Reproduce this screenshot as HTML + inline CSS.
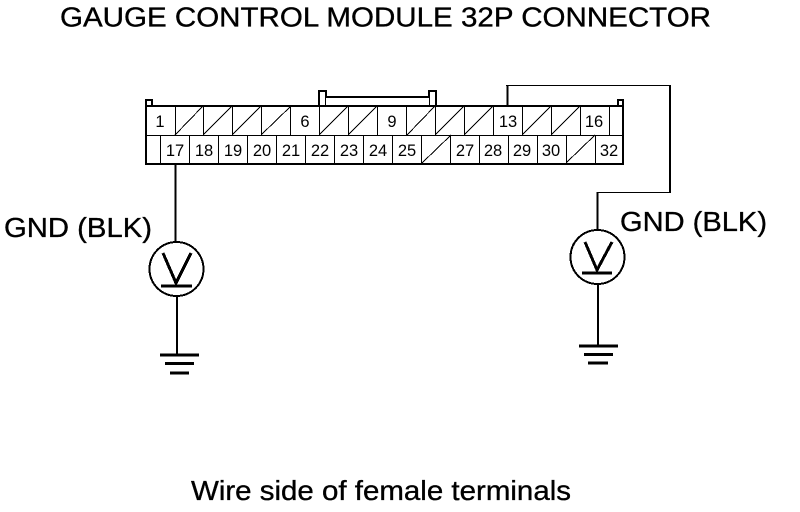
<!DOCTYPE html>
<html>
<head>
<meta charset="utf-8">
<style>
html,body{margin:0;padding:0;background:#fff;width:800px;height:512px;overflow:hidden}
svg{display:block;shape-rendering:crispEdges}
text{font-family:"Liberation Sans",sans-serif;fill:#000}
.n{font-size:16.5px;text-anchor:middle}
.b{font-size:28px;stroke:#000;stroke-width:.35px}
</style>
</head>
<body>
<svg width="800" height="512" viewBox="0 0 800 512" xmlns="http://www.w3.org/2000/svg">
<text class="b" x="60" y="26.500" textLength="651" lengthAdjust="spacingAndGlyphs">GAUGE CONTROL MODULE 32P CONNECTOR</text>

<!-- connector outline -->
<g fill="#000">
<rect x="145" y="99" width="2" height="66"/>
<rect x="145" y="99" width="8" height="2"/>
<rect x="151" y="99" width="2" height="7"/>
<rect x="617" y="99" width="7" height="2"/>
<rect x="617" y="99" width="2" height="7"/>
<rect x="622" y="99" width="2" height="66"/>
<rect x="145" y="105" width="479" height="2"/>
<rect x="145" y="163" width="479" height="2"/>
<rect x="318" y="90" width="2" height="16"/>
<rect x="318" y="90" width="9" height="2"/>
<rect x="325" y="90" width="2" height="8"/>
<rect x="325" y="96" width="105" height="2"/>
<rect x="428" y="90" width="2" height="8"/>
<rect x="428" y="90" width="9" height="2"/>
<rect x="435" y="90" width="2" height="16"/>
<rect x="325" y="98" width="1" height="7"/>
<rect x="429" y="98" width="1" height="7"/>
</g>

<!-- grid -->
<g fill="none" stroke="#000" stroke-width="1">
<path d="M146 135.500H623"/>
<path d="M175.500 106V135M203.500 106V135M232.500 106V135M261.500 106V135M290.500 106V135M319.500 106V135M348.500 106V135M377.500 106V135M406.500 106V135M435.500 106V135M464.500 106V135M493.500 106V135M522.500 106V135M551.500 106V135M580.500 106V135M609.500 106V135"/>
<path d="M160.500 135V163M189.500 135V163M218.500 135V163M247.500 135V163M276.500 135V163M305.500 135V163M334.500 135V163M363.500 135V163M392.500 135V163M421.500 135V163M450.500 135V163M479.500 135V163M508.500 135V163M537.500 135V163M566.500 135V163M595.500 135V163"/>
<path d="M175 135L203 106M203 135L232 106M232 135L261 106M261 135L291 106M319 135L348 106M348 135L377 106M407 135L435 106M435 135L464 106M464 135L493 106M522 135L551 106M551 135L580 106M422 163L451 135M566 163L595 135"/>
</g>

<!-- numbers -->
<g class="labels">
<text class="n" x="160" y="127">1</text>
<text class="n" x="305" y="127">6</text>
<text class="n" x="392" y="127">9</text>
<text class="n" x="508" y="127">13</text>
<text class="n" x="594" y="127">16</text>
<text class="n" x="175" y="156">17</text>
<text class="n" x="204" y="156">18</text>
<text class="n" x="233" y="156">19</text>
<text class="n" x="262" y="156">20</text>
<text class="n" x="291" y="156">21</text>
<text class="n" x="320" y="156">22</text>
<text class="n" x="349" y="156">23</text>
<text class="n" x="378" y="156">24</text>
<text class="n" x="407" y="156">25</text>
<text class="n" x="465" y="156">27</text>
<text class="n" x="493" y="156">28</text>
<text class="n" x="522" y="156">29</text>
<text class="n" x="551" y="156">30</text>
<text class="n" x="609" y="156">32</text>
</g>

<!-- left meter -->
<g fill="none" stroke="#000">
<path d="M175.500 164V243" stroke-width="2"/>
<circle cx="176.500" cy="269" r="27" stroke-width="2"/>
<path d="M163 253L176 283L191 253" stroke-width="3"/>
<path d="M161 286H192" stroke-width="3"/>
<path d="M177 296V355" stroke-width="2"/>
<path d="M160 355H199" stroke-width="3"/>
<path d="M165 363.500H194" stroke-width="3"/>
<path d="M170 373H189" stroke-width="3"/>
</g>

<!-- right wire and meter -->
<g fill="none" stroke="#000">
<path d="M507.500 106V85" stroke-width="2"/>
<path d="M506 85.500H670" stroke-width="1"/>
<path d="M670 85V193" stroke-width="2"/>
<path d="M670 192.500H597" stroke-width="1"/>
<path d="M597.500 192V231" stroke-width="2"/>
<circle cx="597.500" cy="257" r="27" stroke-width="2"/>
<path d="M585 242L597 270L612 242" stroke-width="3"/>
<path d="M582 273H612" stroke-width="3"/>
<path d="M598 284V346" stroke-width="2"/>
<path d="M579 346H618" stroke-width="3"/>
<path d="M584 354.500H613" stroke-width="3"/>
<path d="M588 363H608" stroke-width="3"/>
</g>

<text class="b" x="4" y="237" textLength="148" lengthAdjust="spacingAndGlyphs">GND (BLK)</text>
<text class="b" x="620" y="231" textLength="147" lengthAdjust="spacingAndGlyphs">GND (BLK)</text>
<text class="b" x="191" y="500" textLength="380" lengthAdjust="spacingAndGlyphs">Wire side of female terminals</text>
</svg>
</body>
</html>
